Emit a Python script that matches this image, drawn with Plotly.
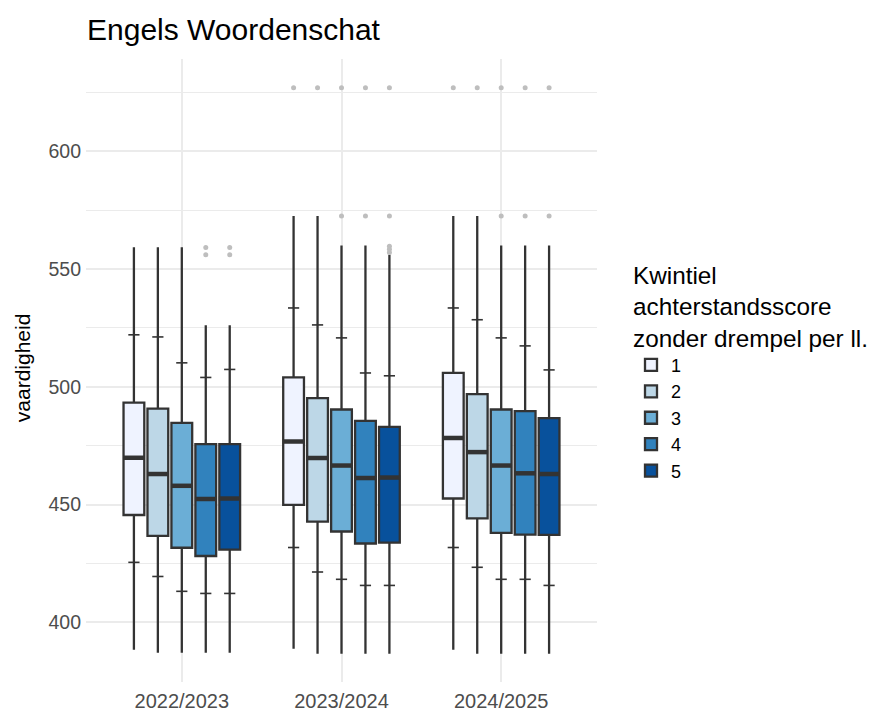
import plotly.graph_objects as go

# ---------------- data ----------------
years = ["2022/2023", "2023/2024", "2024/2025"]
quintiles = ["1", "2", "3", "4", "5"]

# indexed [quintile][year]
lower_vals = [
    [388.4, 388.8, 388.4],
    [387.1, 386.7, 386.7],
    [387.1, 386.7, 386.7],
    [387.1, 386.7, 386.7],
    [387.1, 386.7, 386.7],
]
p10_vals = [
    [425.5, 431.8, 431.8],
    [419.5, 421.4, 423.4],
    [413.2, 418.3, 418.3],
    [412.3, 415.7, 418.3],
    [412.3, 415.7, 415.7],
]
q1_vals = [
    [445.6, 449.9, 452.6],
    [436.7, 442.8, 444.2],
    [431.7, 438.6, 438.0],
    [428.2, 433.5, 437.3],
    [430.9, 433.9, 437.2],
]
median_vals = [
    [469.9, 476.8, 478.3],
    [463.0, 469.8, 472.3],
    [458.0, 466.6, 466.6],
    [452.4, 461.3, 463.3],
    [452.6, 461.5, 463.0],
]
q3_vals = [
    [493.3, 504.0, 505.9],
    [490.8, 495.2, 496.9],
    [484.7, 490.4, 490.4],
    [475.7, 485.6, 489.7],
    [475.7, 483.0, 486.7],
]
p90_vals = [
    [522.1, 533.5, 533.5],
    [521.2, 526.3, 528.5],
    [510.2, 520.8, 520.8],
    [504.0, 505.9, 517.4],
    [507.4, 504.7, 507.2],
]
upper_vals = [
    [559.3, 572.5, 572.5],
    [559.3, 572.5, 572.5],
    [559.3, 560.0, 560.0],
    [526.2, 560.0, 560.0],
    [526.2, 556.1, 560.0],
]

# outliers: year index, quintile index, value
outlier_year = [0, 0, 0, 0,
                1, 1, 1, 1, 1, 1, 1, 1, 1, 1, 1,
                2, 2, 2, 2, 2, 2, 2, 2]
outlier_quint = [3, 3, 4, 4,
                 0, 1, 2, 2, 3, 3, 4, 4, 4, 4, 4,
                 0, 1, 2, 2, 3, 3, 4, 4]
outlier_value = [559.2, 556.1, 559.2, 556.1,
                 627.0, 627.0, 627.0, 572.5, 627.0, 572.5, 627.0, 572.5, 559.7, 558.4, 557.0,
                 627.0, 627.0, 627.0, 572.5, 627.0, 572.5, 627.0, 572.5]

colors = ["#EFF3FF", "#BDD7E7", "#6BAED6", "#3182BD", "#08519C"]
LINE = "#333333"
GRID = "#EBEBEB"
FONT = "Liberation Sans, Arial, sans-serif"

DODGE = 0.15
BOX_W = 0.13

# the page body adds an 8px offset; figure is sized to fit the window
W, H = 872, 705


def xpos(yi, qi):
    return yi + 1 + (qi - 2) * DODGE


fig = go.Figure()

for qi, q in enumerate(quintiles):
    xs = [xpos(yi, qi) for yi in range(len(years))]
    fig.add_trace(go.Box(
        x=xs, q1=q1_vals[qi], median=median_vals[qi], q3=q3_vals[qi],
        lowerfence=lower_vals[qi], upperfence=upper_vals[qi],
        name=q, fillcolor=colors[qi],
        line=dict(color=LINE, width=2.3), whiskerwidth=0, width=BOX_W,
        boxpoints=False, hoverinfo="skip",
    ))

for qi, q in enumerate(quintiles):
    xs = [xpos(yi, qi) for yi in range(len(years))]
    # thick median line
    fig.add_trace(go.Scatter(
        x=xs, y=median_vals[qi], mode="markers", showlegend=False,
        marker=dict(symbol="line-ew", size=15.5, line=dict(color=LINE, width=4.5)),
        hoverinfo="skip",
    ))
    # percentile ticks
    fig.add_trace(go.Scatter(
        x=xs + xs, y=p10_vals[qi] + p90_vals[qi], mode="markers", showlegend=False,
        marker=dict(symbol="line-ew", size=8, line=dict(color=LINE, width=1.6)),
        hoverinfo="skip",
    ))

fig.add_trace(go.Scatter(
    x=[xpos(y, q) for y, q in zip(outlier_year, outlier_quint)], y=outlier_value,
    mode="markers", showlegend=False,
    marker=dict(symbol="circle", size=5, color="#BEBEBE"),
    hoverinfo="skip",
))

fig.update_layout(
    width=W, height=H,
    paper_bgcolor="white", plot_bgcolor="white",
    margin=dict(l=78, r=283, t=51, b=31, pad=0, autoexpand=False),
    boxmode="overlay",
    font=dict(family=FONT, color="black"),
    title=dict(text="Engels Woordenschat", x=79 / W, xanchor="left",
               y=1 - 21 / H, yanchor="middle", xref="container", yref="container",
               font=dict(size=30, family=FONT, color="black")),
    xaxis=dict(range=[0.4, 3.6], tickmode="array", tickvals=[1, 2, 3], ticktext=years,
               showgrid=True, gridcolor=GRID, gridwidth=2, zeroline=False, showline=False,
               ticks="", ticklabelstandoff=5,
               tickfont=dict(size=20, color="#4D4D4D", family=FONT),
               automargin=False),
    yaxis=dict(range=[374.7, 639.2], tickmode="array", tickvals=[400, 450, 500, 550, 600],
               showgrid=True, gridcolor=GRID, gridwidth=2, zeroline=False, showline=False,
               ticks="", ticklabelstandoff=4,
               tickfont=dict(size=19.5, color="#4D4D4D", family=FONT),
               minor=dict(tickmode="array", tickvals=[375, 425, 475, 525, 575, 625],
                          showgrid=True, gridcolor=GRID, gridwidth=1.2),
               automargin=False),
    legend=dict(x=(631 - 86) / 511, xanchor="left", y=0.5, yanchor="middle",
                tracegroupgap=0,
                font=dict(size=18, family=FONT, color="black"),
                title=dict(text="Kwintiel<br>achterstandsscore<br>zonder drempel per ll.",
                           font=dict(size=24.3, family=FONT, color="black")),
                bgcolor="rgba(0,0,0,0)"),
    annotations=[dict(text="vaardigheid", textangle=-90, xref="paper", yref="paper",
                      x=(22 - 86) / 511, y=(681.6 - 368) / 622.6,
                      xanchor="center", yanchor="middle",
                      showarrow=False, font=dict(size=21, family=FONT, color="black"))],
)

fig.write_html("out.html")
